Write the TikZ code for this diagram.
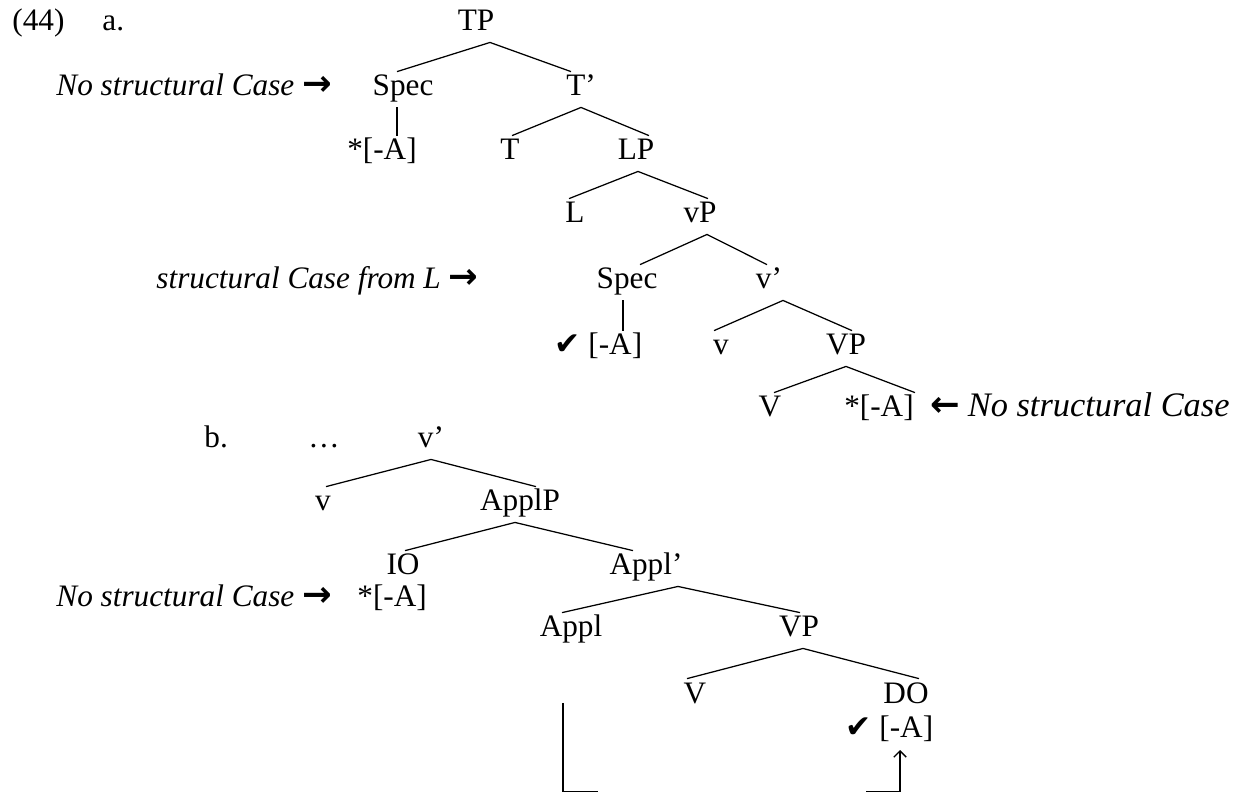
\documentclass[tikz,border=0pt]{standalone}
\usepackage{fontspec}
\setmainfont{Liberation Serif}
\newfontfamily\dvsans{DejaVu Sans}
\usetikzlibrary{calc}
\usetikzlibrary{arrows.meta}
\newcommand{\rarr}{{\dvsans\bfseries\fontsize{17}{17}\selectfont →}}
\newcommand{\larr}{{\dvsans\bfseries\fontsize{17}{17}\selectfont ←}}
\newcommand{\chk}{{\dvsans\fontsize{15}{15}\selectfont ✔}}
\tikzset{
  cat/.style={anchor=base, inner xsep=0pt, inner ysep=1.5pt, text height=10pt, text depth=3.8pt},
  note/.style={anchor=base west, inner sep=0pt},
  branch/.style={line width=0.6pt},
}

\begin{document}
\begin{tikzpicture}[x=0.48pt, y=-0.48pt, every node/.style={font=\fontsize{15}{18}\selectfont}]
    \useasboundingbox (0,0) rectangle (1240,793);
    \node[note] (ex) at (12,31) {(44)};
    \node[note] (exa) at (102,31) {a.};
    \node[cat] (TP) at (476,31) {TP};
    \node[cat] (Spec1) at (403,96) {Spec};
    \node[cat] (Tbar) at (581,96) {T’};
    \node[cat] (A1) at (382,160) {*[-A]};
    \node[cat] (T) at (510,160) {T};
    \node[cat] (LP) at (636,160) {LP};
    \node[cat] (L) at (575,223) {L};
    \node[cat] (vP) at (700,223) {vP};
    \node[cat] (Spec2) at (627,289) {Spec};
    \node[cat] (vbar) at (769,289) {v’};
    \node[cat, anchor=base west] (A2) at (554,355) {\chk\ [-A]};
    \node[cat] (v) at (721,355) {v};
    \node[cat] (VP) at (846,355) {VP};
    \node[cat] (V) at (770,417) {V};
    \node[cat] (A3) at (879,417) {*[-A]};
    \node[note] (noCase1) at (56,96) {\textit{No structural Case} \rarr};
    \node[note] (fromL) at (156,289) {\textit{structural Case from L} \rarr};
    \node[note, anchor=base east] (noCase2) at (1230,417) {\larr\ {\fontsize{16.5}{18}\selectfont\itshape No structural Case}};

    \node[note] (exb) at (204,448) {b.};
    \node[note] (dots) at (308,448) {…};
    \node[cat] (vbarb) at (431,448) {v’};
    \node[cat] (vb) at (323,511) {v};
    \node[cat] (ApplP) at (520,511) {ApplP};
    \node[cat] (IO) at (403,575) {IO};
    \node[cat] (Applbar) at (646,575) {Appl’};
    \node[note] (A4) at (357,607) {*[-A]};
    \node[note] (noCase3) at (56,607) {\textit{No structural Case} \rarr};
    \node[cat] (Appl) at (571,637) {Appl};
    \node[cat] (VPb) at (799,637) {VP};
    \node[cat] (Vb) at (695,703) {V};
    \node[cat] (DO) at (906,703) {DO};
    \node[note] (A5) at (845,737) {\chk\ [-A]};

    \foreach \p/\px/\c/\cx in {TP/14/Spec1/-6, TP/14/Tbar/-10, Tbar/0/T/2, Tbar/0/LP/13, LP/2/L/-6, LP/2/vP/8,
        vP/7/Spec2/13, vP/7/vbar/-2, vbar/14/v/-7, vbar/14/VP/6, VP/0/V/4, VP/0/A3/36,
        vbarb/0/vb/3, vbarb/0/ApplP/16, ApplP/-5/IO/2, ApplP/-5/Applbar/-13, Applbar/32/Appl/-9,
        Applbar/32/VPb/1, VPb/4/Vb/-8, VPb/4/DO/13}
        \draw[branch] ($(\p.south)+(\px,0)$) -- ($(\c.north)+(\cx,0)$);
    \draw[branch] ($(Spec1.south)+(-6,0)$) -- ($(Spec1.south |- A1.north)+(-6,0)$);
    \draw[branch] ($(Spec2.south)+(-4,0)$) -- ($(Spec2.south |- A2.north)+(-4,0)$);

    \coordinate (brTop) at (563,703);
    \coordinate (brBot) at (563,791.5);
    \coordinate (brGapL) at (598,791.5);
    \coordinate (brGapR) at (866,791.5);
    \coordinate (brEnd) at (900,791.5);
    \coordinate (brTip) at (900,750);
    \draw[branch] (brTop) -- (brBot) -- (brGapL);
    \draw[branch, -{Straight Barb[length=3pt,width=6pt]}] (brGapR) -- (brEnd) -- (brTip);
\end{tikzpicture}
\end{document}
